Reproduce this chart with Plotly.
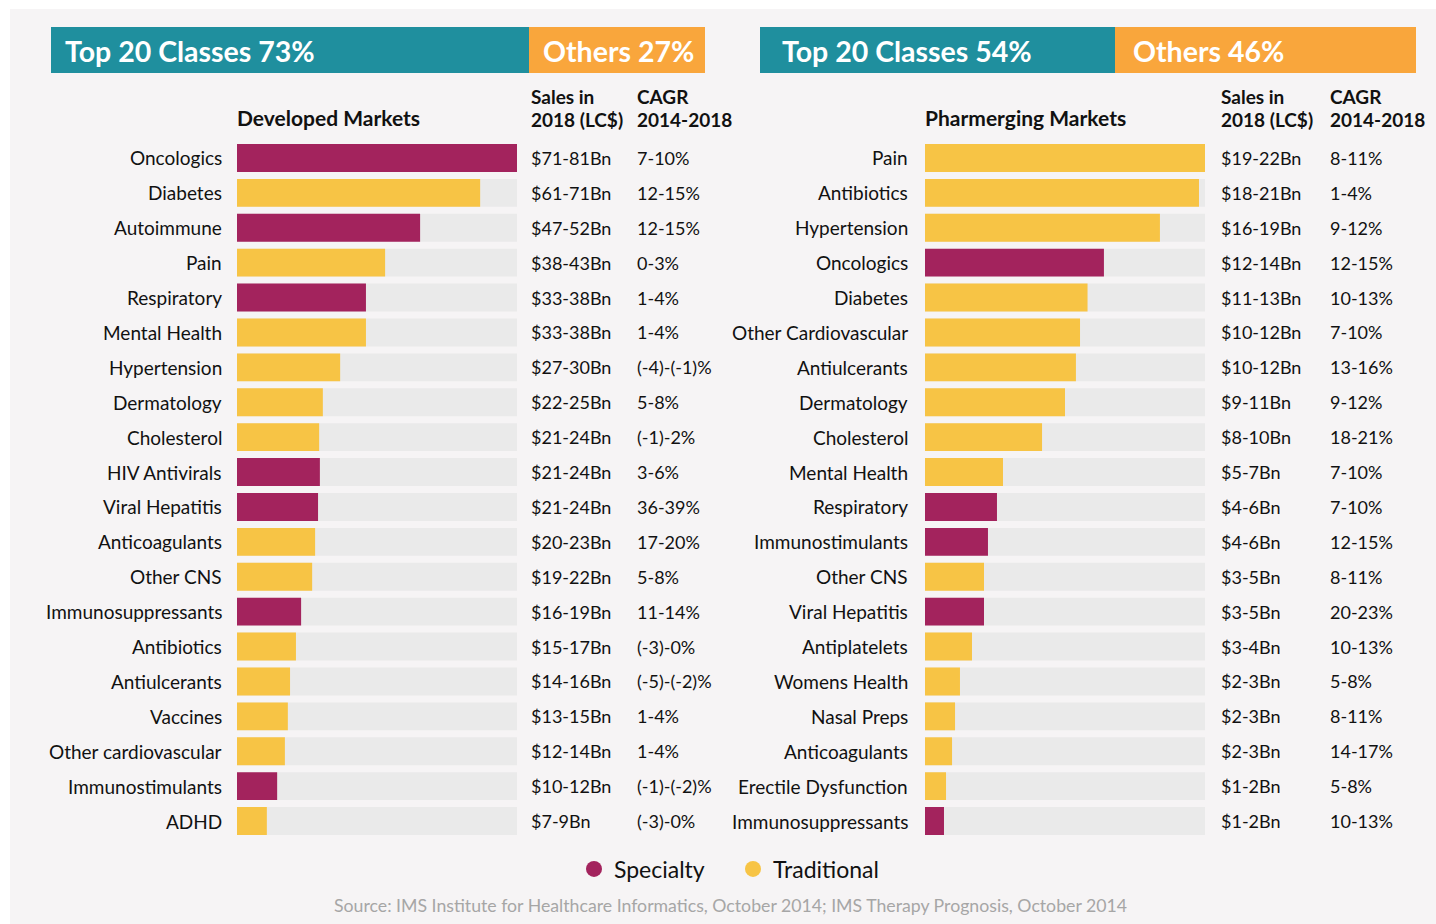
import plotly.graph_objects as go

W, H = 1436, 924

# ---------------- data ----------------
dev_classes = ["Oncologics", "Diabetes", "Autoimmune", "Pain", "Respiratory", "Mental Health",
               "Hypertension", "Dermatology", "Cholesterol", "HIV Antivirals", "Viral Hepatitis",
               "Anticoagulants", "Other CNS", "Immunosuppressants", "Antibiotics", "Antiulcerants",
               "Vaccines", "Other cardiovascular", "Immunostimulants", "ADHD"]
dev_values = [76, 66, 49.7, 40.2, 35.0, 35.0, 28.0, 23.3, 22.3, 22.5, 22.0, 21.2, 20.4, 17.4,
              16.0, 14.4, 13.8, 13.0, 10.9, 8.1]
dev_type = ["S", "T", "S", "T", "S", "T", "T", "T", "T", "S", "S", "T", "T", "S", "T", "T", "T",
            "T", "S", "T"]
dev_sales = ["$71-81Bn", "$61-71Bn", "$47-52Bn", "$38-43Bn", "$33-38Bn", "$33-38Bn", "$27-30Bn",
             "$22-25Bn", "$21-24Bn", "$21-24Bn", "$21-24Bn", "$20-23Bn", "$19-22Bn", "$16-19Bn",
             "$15-17Bn", "$14-16Bn", "$13-15Bn", "$12-14Bn", "$10-12Bn", "$7-9Bn"]
dev_cagr = ["7-10%", "12-15%", "12-15%", "0-3%", "1-4%", "1-4%", "(-4)-(-1)%", "5-8%", "(-1)-2%",
            "3-6%", "36-39%", "17-20%", "5-8%", "11-14%", "(-3)-0%", "(-5)-(-2)%", "1-4%", "1-4%",
            "(-1)-(-2)%", "(-3)-0%"]

ph_classes = ["Pain", "Antibiotics", "Hypertension", "Oncologics", "Diabetes", "Other Cardiovascular",
              "Antiulcerants", "Dermatology", "Cholesterol", "Mental Health", "Respiratory",
              "Immunostimulants", "Other CNS", "Viral Hepatitis", "Antiplatelets", "Womens Health",
              "Nasal Preps", "Anticoagulants", "Erectile Dysfunction", "Immunosuppressants"]
ph_values = [20.5, 20.06, 17.2, 13.1, 11.9, 11.35, 11.05, 10.25, 8.57, 5.71, 5.27, 4.61, 4.32,
             4.32, 3.44, 2.56, 2.2, 1.98, 1.54, 1.39]
ph_type = ["T", "T", "T", "S", "T", "T", "T", "T", "T", "T", "S", "S", "T", "S", "T", "T", "T",
           "T", "T", "S"]
ph_sales = ["$19-22Bn", "$18-21Bn", "$16-19Bn", "$12-14Bn", "$11-13Bn", "$10-12Bn", "$10-12Bn",
            "$9-11Bn", "$8-10Bn", "$5-7Bn", "$4-6Bn", "$4-6Bn", "$3-5Bn", "$3-5Bn", "$3-4Bn",
            "$2-3Bn", "$2-3Bn", "$2-3Bn", "$1-2Bn", "$1-2Bn"]
ph_cagr = ["8-11%", "1-4%", "9-12%", "12-15%", "10-13%", "7-10%", "13-16%", "9-12%", "18-21%",
           "7-10%", "7-10%", "12-15%", "8-11%", "20-23%", "10-13%", "5-8%", "8-11%", "14-17%",
           "5-8%", "10-13%"]

banner_left = ["Top 20 Classes 73%", "Others 27%"]
banner_right = ["Top 20 Classes 54%", "Others 46%"]
legend_names = ["Specialty", "Traditional"]
source_text = ("Source: IMS Institute for Healthcare Informatics, October 2014; "
               "IMS Therapy Prognosis, October 2014")

# ---------------- style ----------------
C_SPEC = "#a3235d"
C_TRAD = "#f7c445"
C_GRAY = "#eaeaea"
C_BG = "#f6f4f5"
C_TEAL = "#1f8f9e"
C_ORANGE = "#f9a63c"
FONT = "Lato"


def px(x):
    return x / W


def py(y):
    return 1 - y / H


fig = go.Figure()

panels = [
    dict(cls=dev_classes, val=dev_values, typ=dev_type, xa="x", ya="y", xmax=dev_values[0]),
    dict(cls=ph_classes, val=ph_values, typ=ph_type, xa="x2", ya="y2", xmax=ph_values[0]),
]

for p in panels:
    fig.add_trace(go.Bar(
        y=p["cls"], x=[p["xmax"]] * len(p["cls"]), orientation="h",
        marker=dict(color=C_GRAY, line=dict(width=0)), width=0.8,
        xaxis=p["xa"], yaxis=p["ya"], showlegend=False, hoverinfo="skip"))
    fig.add_trace(go.Bar(
        y=p["cls"], x=p["val"], orientation="h",
        marker=dict(color=[C_SPEC if t == "S" else C_TRAD for t in p["typ"]], line=dict(width=0)),
        width=0.8, xaxis=p["xa"], yaxis=p["ya"], showlegend=False))

# legend entries
fig.add_trace(go.Scatter(x=[None], y=[None], mode="markers", name=legend_names[0],
                         marker=dict(color=C_SPEC, size=17, symbol="circle")))
fig.add_trace(go.Scatter(x=[None], y=[None], mode="markers", name=legend_names[1],
                         marker=dict(color=C_TRAD, size=17, symbol="circle")))

ydom = [py(838.5), py(140.5)]
axis_common = dict(showgrid=False, zeroline=False, showticklabels=False, ticks="", showline=False)

fig.update_layout(
    width=W, height=H,
    margin=dict(l=0, r=0, t=0, b=0),
    paper_bgcolor="white", plot_bgcolor="rgba(0,0,0,0)",
    barmode="overlay", bargap=0.2,
    font=dict(family=FONT, color="#111111"),
    xaxis=dict(domain=[px(237), px(517)], range=[0, dev_values[0]], anchor="y", **axis_common),
    yaxis=dict(domain=ydom, categoryorder="array", categoryarray=dev_classes,
               range=[len(dev_classes) - 0.5, -0.5], anchor="x", **axis_common),
    xaxis2=dict(domain=[px(925), px(1205)], range=[0, ph_values[0]], anchor="y2", **axis_common),
    yaxis2=dict(domain=ydom, categoryorder="array", categoryarray=ph_classes,
                range=[len(ph_classes) - 0.5, -0.5], anchor="x2", **axis_common),
    legend=dict(orientation="h", x=px(574), xanchor="left", y=py(869), yanchor="middle",
                font=dict(size=23, family=FONT, color="#111111"), bgcolor="rgba(0,0,0,0)",
                itemwidth=30, tracegroupgap=0, entrywidth=114, entrywidthmode="pixels"),
)

shapes = [
    dict(type="rect", xref="paper", yref="paper", x0=px(10), x1=1, y0=0, y1=py(9),
         fillcolor=C_BG, line=dict(width=0), layer="below"),
    dict(type="rect", xref="paper", yref="paper", x0=px(51), x1=px(529), y0=py(73), y1=py(27),
         fillcolor=C_TEAL, line=dict(width=0), layer="below"),
    dict(type="rect", xref="paper", yref="paper", x0=px(529), x1=px(705), y0=py(73), y1=py(27),
         fillcolor=C_ORANGE, line=dict(width=0), layer="below"),
    dict(type="rect", xref="paper", yref="paper", x0=px(760), x1=px(1115), y0=py(73), y1=py(27),
         fillcolor=C_TEAL, line=dict(width=0), layer="below"),
    dict(type="rect", xref="paper", yref="paper", x0=px(1115), x1=px(1416), y0=py(73), y1=py(27),
         fillcolor=C_ORANGE, line=dict(width=0), layer="below"),
]
fig.update_layout(shapes=shapes)

ann = []


def txt(x, y, s, size, bold=False, color="#111111", xanchor="left", yanchor="middle", **kw):
    ann.append(dict(xref="paper", yref="paper", x=px(x), y=py(y), text=f"<b>{s}</b>" if bold else s,
                    showarrow=False, xanchor=xanchor, yanchor=yanchor,
                    font=dict(size=size, family=FONT, color=color), **kw))


# banners
txt(63, 51, banner_left[0], 28.5, bold=True, color="white")
txt(541, 51, banner_left[1], 28.5, bold=True, color="white")
txt(780, 51, banner_right[0], 28.5, bold=True, color="white")
txt(1131, 51, banner_right[1], 28.5, bold=True, color="white")

# headers
txt(235, 118, "Developed Markets", 21, bold=True)
txt(923, 118, "Pharmerging Markets", 21, bold=True)
for xs, xc in [(529, 635), (1219, 1328)]:
    txt(xs, 96, "Sales in", 19, bold=True)
    txt(xs, 119, "2018 (LC$)", 19, bold=True)
    txt(xc, 96, "CAGR", 19, bold=True)
    txt(xc, 119, "2014-2018", 19, bold=True)

# row labels and columns
for cls, sales, cagr, xr, ya, xs, xc in [
        (dev_classes, dev_sales, dev_cagr, 224, "y", 529, 635),
        (ph_classes, ph_sales, ph_cagr, 910, "y2", 1219, 1328)]:
    for c, s, g in zip(cls, sales, cagr):
        for xx, t, anc, fs in [(xr, c, "right", 19), (xs, s, "left", 18), (xc, g, "left", 18)]:
            ann.append(dict(xref="paper", yref=ya, x=px(xx), y=c, text=t, showarrow=False,
                            xanchor=anc, yanchor="middle",
                            font=dict(size=fs, family=FONT, color="#111111")))

# source
txt(730, 905, source_text, 17.7, color="#a6a6a6", xanchor="center")

fig.update_layout(annotations=ann)
fig.write_html(
    "out.html",
    config={"displayModeBar": False},
    post_script="document.body.style.margin='0';document.body.style.overflow='hidden';",
)
